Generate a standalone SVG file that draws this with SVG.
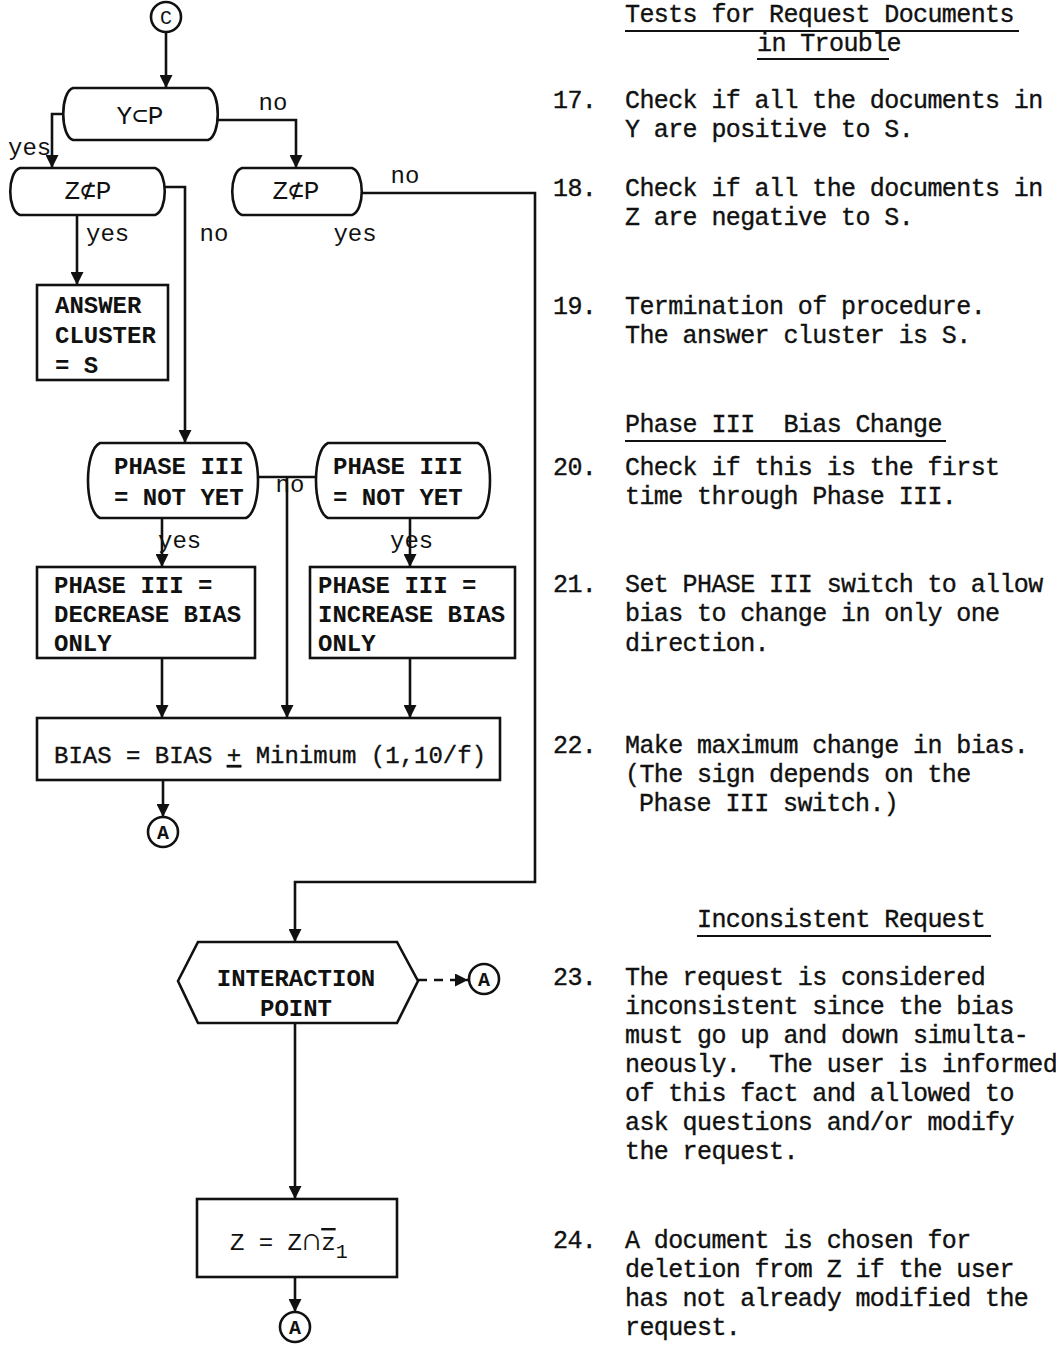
<svg xmlns="http://www.w3.org/2000/svg" width="1056" height="1347" viewBox="0 0 1056 1347">
<style>
text{font-family:"Liberation Mono","DejaVu Sans Mono",monospace;font-size:24px;fill:#111}
.b{font-weight:bold}
.m{text-anchor:middle}
.n text{font-size:25px;letter-spacing:-0.6px;stroke:#111;stroke-width:0.35}
.shape{fill:#fff;stroke:#111;stroke-width:2.6}
.conn{fill:none;stroke:#111;stroke-width:2.6}
.dash{stroke-dasharray:9 7}
.ul{stroke:#111;stroke-width:2.2}
</style>
<defs>
<marker id="ah" viewBox="0 0 10 10" refX="10" refY="5" markerWidth="5" markerHeight="5" markerUnits="strokeWidth" orient="auto">
<path d="M0,0 L10,5 L0,10 Z" fill="#111"/>
</marker>
</defs>
<rect width="1056" height="1347" fill="#fff"/>

<g id="connectors">
<path class="conn" d="M166,32 V88" marker-end="url(#ah)"/>
<path class="conn" d="M63,114 H52 V168" marker-end="url(#ah)"/>
<path class="conn" d="M218,120 H296 V168" marker-end="url(#ah)"/>
<path class="conn" d="M77,215 V285" marker-end="url(#ah)"/>
<path class="conn" d="M165,187 H185 V443" marker-end="url(#ah)"/>
<path class="conn" d="M362,193 H535 V882 H295 V942" marker-end="url(#ah)"/>
<path class="conn" d="M162,518 V567" marker-end="url(#ah)"/>
<path class="conn" d="M410,518 V567" marker-end="url(#ah)"/>
<path class="conn" d="M258,477 H316"/>
<path class="conn" d="M287,477 V718" marker-end="url(#ah)"/>
<path class="conn" d="M162,658 V718" marker-end="url(#ah)"/>
<path class="conn" d="M410,658 V718" marker-end="url(#ah)"/>
<path class="conn" d="M163,780 V817" marker-end="url(#ah)"/>
<path class="conn dash" d="M418,980 H468" marker-end="url(#ah)"/>
<path class="conn" d="M295,1023 V1199" marker-end="url(#ah)"/>
<path class="conn" d="M295,1277 V1312" marker-end="url(#ah)"/>
</g>

<g id="labels">
<text x="8" y="155">yes</text>
<text class="m" x="273" y="110">no</text>
<text class="m" x="405" y="183">no</text>
<text x="86" y="241">yes</text>
<text class="m" x="214" y="241">no</text>
<text class="m" x="355" y="241">yes</text>
<text class="m" x="290" y="492">no</text>
<text x="158" y="548">yes</text>
<text x="390" y="548">yes</text>
</g>

<g id="nodeC">
<circle class="shape" cx="166" cy="17" r="15"/>
<text class="m" x="166" y="24" style="font-size:20px">C</text>
</g>

<g id="nodeYP">
<path class="shape" d="M73,88 H208 C221,92 221,136 208,140 H73 C60,136 60,92 73,88 Z"/>
<text class="m" x="140" y="124" style="font-size:26px">Y⊂P</text>
</g>

<g id="nodeZP1">
<path class="shape" d="M20,168 H155 C168,172 168,211 155,215 H20 C7,211 7,172 20,168 Z"/>
<text class="m" x="88" y="199" style="font-size:26px">Z⊄P</text>
</g>

<g id="nodeZP2">
<path class="shape" d="M242,168 H352 C365,172 365,211 352,215 H242 C229,211 229,172 242,168 Z"/>
<text class="m" x="296" y="199" style="font-size:26px">Z⊄P</text>
</g>

<g id="nodeAnswer">
<rect class="shape" x="37" y="285" width="131" height="95"/>
<text class="b" x="55" y="313">ANSWER</text>
<text class="b" x="55" y="343">CLUSTER</text>
<text class="b" x="55" y="373">= S</text>
</g>

<g id="nodePhase1">
<path class="shape" d="M100,443 H246 C262,450 262,511 246,518 H100 C84,511 84,450 100,443 Z"/>
<text class="b" x="114" y="474">PHASE III</text>
<text class="b" x="114" y="505">= NOT YET</text>
</g>

<g id="nodePhase2">
<path class="shape" d="M328,443 H478 C494,450 494,511 478,518 H328 C312,511 312,450 328,443 Z"/>
<text class="b" x="333" y="474">PHASE III</text>
<text class="b" x="333" y="505">= NOT YET</text>
</g>

<g id="nodeDecrease">
<rect class="shape" x="37" y="567" width="218" height="91"/>
<text class="b" x="54" y="593">PHASE III =</text>
<text class="b" x="54" y="622">DECREASE BIAS</text>
<text class="b" x="54" y="651">ONLY</text>
</g>

<g id="nodeIncrease">
<rect class="shape" x="310" y="567" width="205" height="91"/>
<text class="b" x="318" y="593">PHASE III =</text>
<text class="b" x="318" y="622">INCREASE BIAS</text>
<text class="b" x="318" y="651">ONLY</text>
</g>

<g id="nodeBias">
<rect class="shape" x="37" y="718" width="463" height="62"/>
<text x="54" y="763" style="stroke:#111;stroke-width:0.35">BIAS = BIAS <tspan text-decoration="underline">+</tspan> Minimum (1,10/f)</text>
</g>

<g id="nodeA1">
<circle class="shape" cx="163" cy="832" r="15"/>
<text class="m b" x="163" y="839" style="font-size:20px">A</text>
</g>

<g id="nodeInteraction">
<path class="shape" d="M178,981 L198,942 H397 L418,981 L397,1023 H198 Z"/>
<text class="m b" x="296" y="986">INTERACTION</text>
<text class="m b" x="296" y="1016">POINT</text>
</g>

<g id="nodeA2">
<circle class="shape" cx="484" cy="979" r="15"/>
<text class="m b" x="484" y="986" style="font-size:20px">A</text>
</g>

<g id="nodeZ">
<rect class="shape" x="197" y="1199" width="200" height="78"/>
<text x="230" y="1250">Z = Z<tspan style="font-size:32px;font-weight:bold">∩</tspan><tspan text-decoration="overline">z</tspan><tspan dy="8" style="font-size:20px">1</tspan></text>
</g>

<g id="nodeA3">
<circle class="shape" cx="295" cy="1327" r="15"/>
<text class="m b" x="295" y="1334" style="font-size:20px">A</text>
</g>

<g id="notes" class="n">
<text x="625" y="22">Tests for Request Documents</text>
<line class="ul" x1="625" y1="31" x2="1019" y2="31"/>
<text x="757" y="51">in Trouble</text>
<line class="ul" x1="757" y1="59" x2="889" y2="59"/>

<text x="553" y="108">17.</text>
<text x="625" y="108">Check if all the documents in</text>
<text x="625" y="137">Y are positive to S.</text>

<text x="553" y="196">18.</text>
<text x="625" y="196">Check if all the documents in</text>
<text x="625" y="225">Z are negative to S.</text>

<text x="553" y="314">19.</text>
<text x="625" y="314">Termination of procedure.</text>
<text x="625" y="343">The answer cluster is S.</text>

<text x="625" y="432" xml:space="preserve">Phase III  Bias Change</text>
<line class="ul" x1="625" y1="441" x2="946" y2="441"/>

<text x="553" y="475">20.</text>
<text x="625" y="475">Check if this is the first</text>
<text x="625" y="504">time through Phase III.</text>

<text x="553" y="592">21.</text>
<text x="625" y="592">Set PHASE III switch to allow</text>
<text x="625" y="621">bias to change in only one</text>
<text x="625" y="651">direction.</text>

<text x="553" y="753">22.</text>
<text x="625" y="753">Make maximum change in bias.</text>
<text x="625" y="782">(The sign depends on the</text>
<text x="639" y="811">Phase III switch.)</text>

<text x="697" y="927">Inconsistent Request</text>
<line class="ul" x1="697" y1="936" x2="991" y2="936"/>

<text x="553" y="985">23.</text>
<text x="625" y="985">The request is considered</text>
<text x="625" y="1014">inconsistent since the bias</text>
<text x="625" y="1043">must go up and down simulta-</text>
<text x="625" y="1072" xml:space="preserve">neously.  The user is informed</text>
<text x="625" y="1101">of this fact and allowed to</text>
<text x="625" y="1130">ask questions and/or modify</text>
<text x="625" y="1159">the request.</text>

<text x="553" y="1248">24.</text>
<text x="625" y="1248">A document is chosen for</text>
<text x="625" y="1277">deletion from Z if the user</text>
<text x="625" y="1306">has not already modified the</text>
<text x="625" y="1335">request.</text>
</g>
</svg>
